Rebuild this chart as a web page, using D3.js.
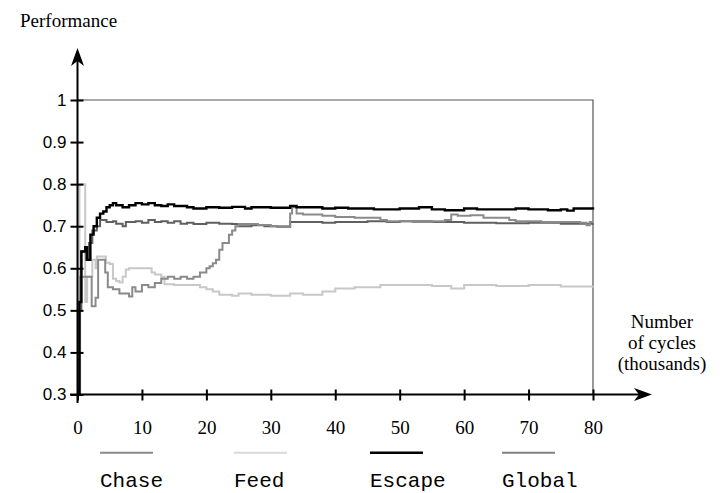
<!DOCTYPE html>
<meta charset="utf-8">
<head>
    <title>Performance</title>
    <script src="https://cdn.jsdelivr.net/npm/d3@7"></script>
</head>

<style>
    body { margin: 0; background: #fff; }
    .serif { font-family: "Liberation Serif", "Times New Roman", serif; fill: #000; }
    .mono { font-family: "Liberation Mono", "Courier New", monospace; fill: #000; }
    .run { fill: none; stroke-linejoin: miter; }
</style>

<svg></svg>

<script>
    var vWidth = 725;
    var vHeight = 493;

    var xTicks = [0, 10, 20, 30, 40, 50, 60, 70, 80];
    var yTicks = [0.3, 0.4, 0.5, 0.6, 0.7, 0.8, 0.9, 1];
    var seriesNames = ["Chase", "Feed", "Escape", "Global"];

    // [thousands of cycles, performance]
    var chase = [[0, 0.3], [0.4, 0.58], [2, 0.58], [2.2, 0.51], [2.8, 0.53], [3.2, 0.62], [4, 0.62], [4.3, 0.59],
        [4.7, 0.555], [5.5, 0.55], [6.5, 0.54], [8, 0.533], [8.5, 0.555], [9, 0.545], [10, 0.56], [11, 0.555],
        [12, 0.565], [13, 0.575], [14, 0.58], [15, 0.575], [16, 0.58], [17, 0.575], [18, 0.58], [19, 0.59],
        [20, 0.6], [20.5, 0.605], [21, 0.612], [21.5, 0.62], [22, 0.644], [22.5, 0.66], [23.5, 0.68], [24, 0.69],
        [24.5, 0.7], [25, 0.705], [28, 0.703], [30, 0.7], [32, 0.7], [33, 0.73], [33.3, 0.745], [34, 0.73],
        [35, 0.728], [38, 0.725], [40, 0.722], [43, 0.72], [47, 0.715], [48, 0.712], [52, 0.71], [55, 0.712],
        [57, 0.715], [58, 0.728], [59, 0.725], [61, 0.726], [63, 0.72], [67, 0.715], [68, 0.712], [72, 0.71],
        [78, 0.708], [79, 0.702], [79.5, 0.71], [80, 0.71]];
    var feed = [[0, 0.3], [0.3, 0.8], [1.2, 0.52], [1.5, 0.58], [2.3, 0.62], [2.8, 0.6], [3, 0.628], [4, 0.628],
        [4.4, 0.613], [5, 0.61], [5.5, 0.575], [6, 0.57], [6.5, 0.566], [7, 0.58], [7.5, 0.597], [8, 0.6],
        [11, 0.6], [11.5, 0.59], [12, 0.585], [13, 0.58], [13.5, 0.562], [15, 0.56], [18, 0.56], [19, 0.555],
        [20, 0.55], [21, 0.545], [22, 0.537], [24, 0.535], [25, 0.54], [27, 0.537], [30, 0.535], [33, 0.54],
        [35, 0.537], [38, 0.545], [40, 0.552], [43, 0.555], [47, 0.56], [52, 0.56], [55, 0.558], [58, 0.552],
        [60, 0.56], [65, 0.558], [70, 0.56], [75, 0.557], [80, 0.558]];
    var escape = [[0, 0.3], [0.3, 0.52], [0.6, 0.64], [1.2, 0.65], [1.5, 0.62], [2, 0.68], [2.5, 0.7], [3, 0.72],
        [3.5, 0.73], [4, 0.735], [4.5, 0.745], [5, 0.75], [5.5, 0.755], [6, 0.75], [7, 0.745], [8, 0.75],
        [9, 0.755], [10, 0.752], [11, 0.755], [12, 0.75], [13, 0.748], [14, 0.752], [15, 0.748], [17, 0.745],
        [18, 0.742], [20, 0.745], [22, 0.744], [24, 0.746], [26, 0.742], [27, 0.745], [30, 0.744], [33, 0.748],
        [34, 0.745], [38, 0.742], [40, 0.744], [42, 0.742], [46, 0.74], [50, 0.742], [53, 0.745], [55, 0.74],
        [57, 0.738], [60, 0.742], [62, 0.74], [65, 0.74], [68, 0.742], [70, 0.74], [73, 0.738], [75, 0.74],
        [76, 0.737], [77, 0.742], [80, 0.74]];
    var global = [[0, 0.3], [0.3, 0.5], [0.6, 0.64], [1.3, 0.62], [1.8, 0.66], [2.3, 0.69], [3, 0.7], [3.5, 0.715],
        [4.5, 0.71], [5.5, 0.712], [6, 0.706], [7, 0.7], [7.5, 0.71], [9, 0.712], [10, 0.708], [11, 0.715],
        [12, 0.71], [13, 0.712], [14, 0.708], [15, 0.712], [16, 0.706], [17, 0.708], [18, 0.705], [20, 0.708],
        [22, 0.706], [24, 0.705], [25, 0.7], [27, 0.702], [29, 0.7], [31, 0.699], [33, 0.71], [38, 0.708],
        [40, 0.71], [45, 0.712], [48, 0.71], [50, 0.712], [55, 0.71], [60, 0.708], [65, 0.707], [70, 0.708],
        [75, 0.706], [80, 0.707]];

    var seriesData = [chase, feed, escape, global];
    var colors = ["#8a8a8a", "#c8c8c8", "#000000", "#606060"];
    var widths = [2, 2, 2.4, 2];
    var drawOrder = [1, 3, 0, 2];

    var svg = d3.select('svg').attr('width', vWidth).attr('height', vHeight);

    // scales
    var x = d3.scaleLinear().domain([0, 80]).range([77.5, 593]);
    var y = d3.scaleLinear().domain([0.3, 1]).range([394.5, 100]);

    // plot frame (top and right)
    svg.append('path')
        .attr('d', 'M' + x(0) + ',' + y(1) + 'H' + x(80) + 'V' + y(0.3))
        .attr('fill', 'none').attr('stroke', '#555').attr('stroke-width', 1.2);

    // data
    var line = d3.line()
        .x(function (d) { return x(d[0]); })
        .y(function (d) { return y(d[1]); })
        .curve(d3.curveStepAfter);

    drawOrder.forEach(function (i) {
        svg.append('path').attr('class', 'run')
            .attr('d', line(seriesData[i]))
            .attr('stroke', colors[i])
            .attr('stroke-width', widths[i]);
    });

    // axes
    var yAxis = svg.append('g').attr('transform', 'translate(' + x(0) + ',0)')
        .call(d3.axisLeft(y).tickValues(yTicks).tickFormat(d3.format('')).tickSize(7).tickPadding(4));
    var xAxis = svg.append('g').attr('transform', 'translate(0,' + y(0.3) + ')')
        .call(d3.axisBottom(x).tickValues(xTicks).tickSize(6).tickPadding(20));

    [yAxis, xAxis].forEach(function (a) {
        a.select('.domain').remove();
        a.selectAll('.tick line').attr('stroke', '#000').attr('stroke-width', 2);
    });
    yAxis.selectAll('.tick line').attr('x1', 6);
    xAxis.selectAll('.tick line').attr('y1', -5);
    yAxis.selectAll('.tick text')
        .style('font-family', '"Liberation Sans", Arial, sans-serif').style('font-size', '17px');
    xAxis.selectAll('.tick text')
        .style('font-family', '"Liberation Serif", "Times New Roman", serif').style('font-size', '19px');

    // axis lines with arrows
    svg.append('line').attr('x1', x(0)).attr('x2', x(0)).attr('y1', 403).attr('y2', 52)
        .attr('stroke', '#000').attr('stroke-width', 2);
    svg.append('line').attr('x1', 70).attr('x2', 648).attr('y1', y(0.3)).attr('y2', y(0.3))
        .attr('stroke', '#000').attr('stroke-width', 2);
    svg.append('path')
        .attr('d', 'M' + x(0) + ',48l-6.5,18l6.5,-5l6.5,5z').attr('fill', '#000');
    svg.append('path')
        .attr('d', 'M652,' + y(0.3) + 'l-18,-6.5l5,6.5l-5,6.5z').attr('fill', '#000');

    // axis titles
    svg.append('text').attr('class', 'serif').attr('x', 20).attr('y', 27)
        .style('font-size', '19px').text('Performance');
    svg.append('text').attr('class', 'serif').attr('text-anchor', 'middle')
        .style('font-size', '19px')
        .selectAll('tspan').data(['Number', 'of cycles', '(thousands)']).enter().append('tspan')
        .attr('x', 662).attr('y', function (d, i) { return 328 + i * 21; })
        .text(function (d) { return d; });

    // legend
    var legendX = [100, 234, 370, 502];
    var legend = svg.selectAll('g.legend').data(seriesNames).enter().append('g')
        .attr('class', 'legend')
        .attr('transform', function (d, i) { return 'translate(' + legendX[i] + ',0)'; });
    legend.append('line').attr('x1', 0).attr('x2', 53).attr('y1', 452.7).attr('y2', 452.7)
        .attr('stroke', function (d, i) { return i === 3 ? '#808080' : (i === 1 ? '#d9d9d9' : colors[i]); })
        .attr('stroke-width', function (d, i) { return i === 2 ? 2.5 : 2; });
    legend.append('text').attr('class', 'mono').attr('x', 0).attr('y', 487)
        .style('font-size', '21px').text(function (d) { return d; });
</script>
